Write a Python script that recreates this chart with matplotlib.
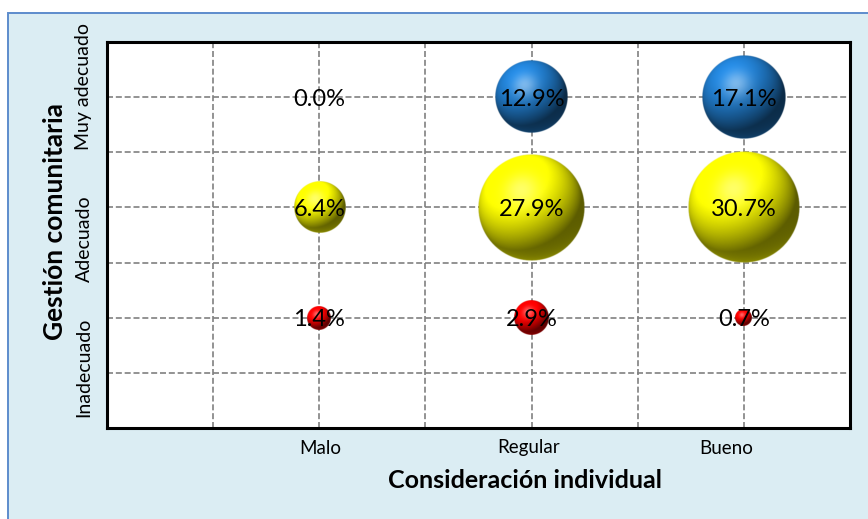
import numpy as np
import matplotlib
matplotlib.use("Agg")
import matplotlib.pyplot as plt
from matplotlib.patches import Rectangle

# ---- data -------------------------------------------------------------
x_categories = ["Malo", "Regular", "Bueno"]
y_categories = ["Inadecuado", "Adecuado", "Muy adecuado"]
x_positions = [1, 2, 3]
y_positions = [1, 2, 3]

pct_inadecuado = [1.4, 2.9, 0.7]
pct_adecuado = [6.4, 27.9, 30.7]
pct_muy_adecuado = [0.0, 12.9, 17.1]

series_values = [pct_inadecuado, pct_adecuado, pct_muy_adecuado]
series_colors = ["#FF0000", "#FFFF00", "#2079C7"]

x_title = "Consideración individual"
y_title = "Gestión comunitaria"

# ---- figure layout ----------------------------------------------------
W, H = 868, 519
DPI = 100
plt.rcParams["font.family"] = ["Lato", "DejaVu Sans"]

fig = plt.figure(figsize=(W / DPI, H / DPI), dpi=DPI)
fig.patch.set_facecolor("white")

# light-blue chart panel with a blue frame
fig.patches.append(Rectangle((8 / W, -0.01), 1.0, 1 - 13 / H + 0.01,
                             transform=fig.transFigure, facecolor="#DBEDF3",
                             edgecolor="#5D8CCC", linewidth=1.4, zorder=-10))

L, R, T, B = 107, 850, 42, 428
ax = fig.add_axes([L / W, 1 - B / H, (R - L) / W, (B - T) / H])
ax.set_zorder(1)
ax.set_facecolor("white")
ax.set_xlim(0, 3.5)
ax.set_ylim(0, 3.5)
ax.set_xticks(np.arange(0.5, 3.01, 0.5))
ax.set_yticks(np.arange(0.5, 3.01, 0.5))
ax.tick_params(length=0, labelbottom=False, labelleft=False)
ax.grid(True, color="#808080", linewidth=1.2, linestyle=(0, (3.6, 1.7)))
ax.set_axisbelow(True)
for s in ax.spines.values():
    s.set_linewidth(2.2)
    s.set_color("black")

px_per_x = (R - L) / 3.5
px_per_y = (B - T) / 3.5


# ---- shaded sphere bubbles --------------------------------------------
def sphere_image(color, n=256):
    base = np.array(matplotlib.colors.to_rgb(color))
    g = np.linspace(-1, 1, n)
    xx, yy = np.meshgrid(g, -g)  # yy positive upward (image row 0 = top)
    rr = np.sqrt(xx ** 2 + yy ** 2)
    inside = rr <= 1.0
    nz = np.sqrt(np.clip(1 - xx ** 2 - yy ** 2, 0, 1))
    light = np.array([-0.35, 0.6, 0.72])
    light /= np.linalg.norm(light)
    diff = np.clip(xx * light[0] + yy * light[1] + nz * light[2], 0, 1)
    shade = 0.36 + 0.82 * diff
    # soft bounce light near the lower rim
    bounce = 0.22 * np.clip(-yy, 0, 1) ** 2 * (1 - nz)
    shade = shade + bounce
    half = light + np.array([0, 0, 1.0])
    half /= np.linalg.norm(half)
    spec = np.clip(xx * half[0] + yy * half[1] + nz * half[2], 0, 1) ** 18
    rgb = np.clip(base[None, None, :] * shade[..., None], 0, 1)
    rgb = rgb + (1 - rgb) * (0.4 * spec)[..., None]
    edge_px = 1.0 / (n / 2)
    alpha = np.clip((1.0 - rr) / (edge_px * 1.5), 0, 1)
    img = np.dstack([rgb, alpha * inside])
    return img


all_vals = [v for s in series_values for v in s]
vmax = max(all_vals)
R_MAX = 56.0  # radius in pixels of the largest bubble

for vals, ypos, col in zip(series_values, y_positions, series_colors):
    img = sphere_image(col)
    for xpos, v in zip(x_positions, vals):
        if v > 0:
            r_px = R_MAX * np.sqrt(v / vmax)
            rx = r_px / px_per_x
            ry = r_px / px_per_y
            ax.imshow(img, extent=[xpos - rx, xpos + rx, ypos - ry, ypos + ry],
                      interpolation="bilinear", zorder=3, aspect="auto")
        ax.text(xpos, ypos - 0.02, f"{v:.1f}%", ha="center", va="center",
                fontsize=17, color="black", zorder=5)

ax.set_xlim(0, 3.5)
ax.set_ylim(0, 3.5)
ax.set_aspect("auto")

# ---- category labels and axis titles ----------------------------------
def fx(px):
    return px / W


def fy(py):
    return 1 - py / H


for name, cx in zip(x_categories, [320, 529, 726]):
    fig.text(fx(cx), fy(448), name, ha="center", va="center", fontsize=13.5)

for name, cy in zip(y_categories, [367, 238.5, 86.5]):
    fig.text(fx(84), fy(cy), name, ha="center", va="center", fontsize=14,
             rotation=90)

fig.text(fx(525), fy(480), x_title, ha="center", va="center", fontsize=18,
         fontweight="bold")
fig.text(fx(55), fy(221), y_title, ha="center", va="center", fontsize=19,
         fontweight="bold", rotation=90)

fig.savefig("out.png", dpi=DPI)
